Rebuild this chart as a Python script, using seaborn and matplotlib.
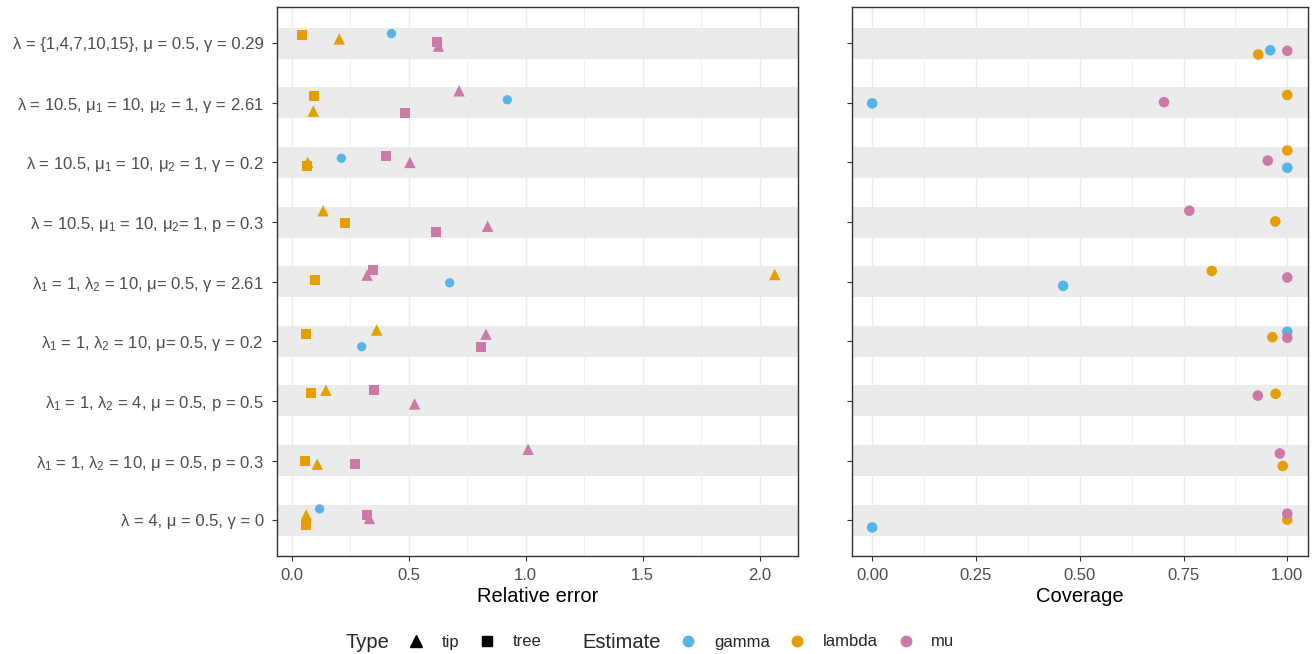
import numpy as np
import pandas as pd
import seaborn as sns
import matplotlib
matplotlib.use('Agg')
import matplotlib.pyplot as plt
from matplotlib.lines import Line2D
from matplotlib.ticker import MultipleLocator

sns.set_theme(style='white')
plt.rcParams['font.family'] = ['Liberation Sans', 'DejaVu Sans']
plt.rcParams['mathtext.fontset'] = 'custom'
plt.rcParams['mathtext.rm'] = 'Liberation Sans'
plt.rcParams['mathtext.it'] = 'Liberation Sans'

scenarios = [
    'λ = {1,4,7,10,15}, μ = 0.5, γ = 0.29',
    'λ = 10.5, $\\mu_1$ = 10, $\\mu_2$ = 1, γ = 2.61',
    'λ = 10.5, $\\mu_1$ = 10, $\\mu_2$ = 1, γ = 0.2',
    'λ = 10.5, $\\mu_1$ = 10, $\\mu_2$= 1, p = 0.3',
    '$\\lambda_1$ = 1, $\\lambda_2$ = 10, μ= 0.5, γ = 2.61',
    '$\\lambda_1$ = 1, $\\lambda_2$ = 10, μ= 0.5, γ = 0.2',
    '$\\lambda_1$ = 1, $\\lambda_2$ = 4, μ = 0.5, p = 0.5',
    '$\\lambda_1$ = 1, $\\lambda_2$ = 10, μ = 0.5, p = 0.3',
    'λ = 4, μ = 0.5, γ = 0',
]

# relative error per scenario (None = not estimated)
err_gamma = [0.427, 0.922, 0.213, None, 0.676, 0.300, None, None, 0.120]
err_lambda_tip = [0.204, 0.093, 0.069, 0.135, 2.065, 0.364, 0.147, 0.110, 0.063]
err_lambda_tree = [0.044, 0.096, 0.066, 0.229, 0.100, 0.062, 0.083, 0.058, 0.062]
err_mu_tip = [0.628, 0.716, 0.506, 0.838, 0.323, 0.831, 0.526, 1.011, 0.333]
err_mu_tree = [0.622, 0.485, 0.404, 0.618, 0.348, 0.810, 0.353, 0.271, 0.323]

# vertical jitter (in row units) as seen in the figure
jit_err_gamma = [-0.16, -0.05, -0.07, None, 0.02, 0.09, None, None, -0.19]
jit_err_lambda_tip = [-0.07, 0.14, 0.00, -0.19, -0.12, -0.19, -0.18, 0.06, -0.09]
jit_err_lambda_tree = [-0.13, -0.12, 0.06, 0.02, -0.02, -0.12, -0.14, 0.01, 0.08]
jit_err_mu_tip = [0.05, -0.20, 0.00, 0.07, -0.11, -0.12, 0.05, -0.19, -0.03]
jit_err_mu_tree = [-0.02, 0.18, -0.11, 0.17, -0.19, 0.09, -0.19, 0.05, -0.08]

# coverage per scenario
cov_gamma = [0.959, 0.0, 1.0, None, 0.460, 1.0, None, None, 0.0]
cov_lambda = [0.930, 1.0, 1.0, 0.971, 0.818, 0.964, 0.972, 0.989, 1.0]
cov_mu = [1.0, 0.703, 0.953, 0.764, 1.0, 1.0, 0.929, 0.982, 1.0]

jit_cov_gamma = [0.12, 0.01, 0.09, None, 0.07, -0.16, None, None, 0.12]
jit_cov_lambda = [0.19, -0.13, -0.20, -0.01, -0.18, -0.07, -0.12, 0.09, -0.01]
jit_cov_mu = [0.13, -0.01, -0.03, -0.19, -0.07, -0.06, -0.09, -0.12, -0.11]

palette = {'gamma': '#56B4E9', 'lambda': '#E69F00', 'mu': '#CC79A7'}


def long_table(series):
    rows = []
    for est, typ, vals, jit in series:
        for i, (v, j) in enumerate(zip(vals, jit)):
            if v is None:
                continue
            rows.append({'row': i, 'value': v, 'ypos': i + j,
                         'Estimate': est, 'Type': typ})
    return pd.DataFrame(rows)


err_df = long_table([
    ('gamma', 'none', err_gamma, jit_err_gamma),
    ('lambda', 'tip', err_lambda_tip, jit_err_lambda_tip),
    ('lambda', 'tree', err_lambda_tree, jit_err_lambda_tree),
    ('mu', 'tip', err_mu_tip, jit_err_mu_tip),
    ('mu', 'tree', err_mu_tree, jit_err_mu_tree),
])
cov_df = long_table([
    ('gamma', 'none', cov_gamma, jit_cov_gamma),
    ('lambda', 'none', cov_lambda, jit_cov_lambda),
    ('mu', 'none', cov_mu, jit_cov_mu),
])

fig = plt.figure(figsize=(13.15, 6.54), dpi=100)
ax1 = fig.add_axes([0.2110, 0.1498, 0.3956, 0.8390])
ax2 = fig.add_axes([0.6481, 0.1498, 0.3463, 0.8390])

for ax in (ax1, ax2):
    ax.set_axisbelow(True)
    for i in range(len(scenarios)):
        ax.axhspan(i - 0.26, i + 0.26, color='#EBEBEB', lw=0, zorder=0.8)

sns.scatterplot(data=err_df, x='value', y='ypos', hue='Estimate', style='Type',
                size='Type', palette=palette,
                markers={'tip': '^', 'tree': 's', 'none': 'o'},
                sizes={'tip': 68, 'tree': 52, 'none': 45},
                linewidth=0, legend=False, ax=ax1, zorder=3)
sns.scatterplot(data=cov_df, x='value', y='ypos', hue='Estimate', palette=palette,
                s=58, linewidth=0, legend=False, ax=ax2, zorder=3)

ax1.set_xlim(-0.06, 2.163)
ax2.set_xlim(-0.048, 1.049)
ax1.xaxis.set_major_locator(MultipleLocator(0.5))
ax1.xaxis.set_minor_locator(MultipleLocator(0.25))
ax2.xaxis.set_major_locator(MultipleLocator(0.25))
ax2.xaxis.set_minor_locator(MultipleLocator(0.125))
ax1.xaxis.set_major_formatter(plt.FormatStrFormatter('%.1f'))
ax2.xaxis.set_major_formatter(plt.FormatStrFormatter('%.2f'))

for ax in (ax1, ax2):
    ax.set_ylim(8.6, -0.6)
    ax.set_yticks(range(len(scenarios)))
    ax.grid(True, which='major', axis='x', color='#EBEBEB', lw=1.0)
    ax.grid(True, which='minor', axis='x', color='#EBEBEB', lw=0.6)
    ax.grid(False, axis='y')
    for s in ax.spines.values():
        s.set_color('#333333')
        s.set_linewidth(1.0)
    ax.tick_params(axis='both', which='major', length=3.8, width=0.8,
                   color='#333333', labelcolor='#4D4D4D', labelsize=12,
                   bottom=True, left=True)
    ax.tick_params(axis='x', which='major', pad=4.5)
    ax.tick_params(axis='y', which='major', pad=6)
    ax.tick_params(axis='x', which='minor', length=0)
    ax.set_ylabel('')

ax1.set_yticklabels(scenarios)
ax2.set_yticklabels([])
ax1.set_xlabel('Relative error', fontsize=14.5, color='black', labelpad=3.5)
ax2.set_xlabel('Coverage', fontsize=14.5, color='black', labelpad=3.5)

# legends along the bottom
ly = 1 - 642 / 654
fig.text(345 / 1315, ly, 'Type', fontsize=14.5, va='center', ha='left')
type_handles = [
    Line2D([], [], ls='none', marker='^', color='black', markersize=8.5),
    Line2D([], [], ls='none', marker='s', color='black', markersize=7),
]
leg1 = fig.legend(type_handles, ['tip', 'tree'], ncol=2, frameon=False,
                  loc='center left', bbox_to_anchor=(406 / 1315, ly),
                  fontsize=12, handlelength=1.2, handletextpad=0.95,
                  columnspacing=1.05, borderaxespad=0, borderpad=0)
fig.text(582 / 1315, ly, 'Estimate', fontsize=14.5, va='center', ha='left')
est_handles = [Line2D([], [], ls='none', marker='o', color=palette[k], markersize=7.5)
               for k in ['gamma', 'lambda', 'mu']]
leg2 = fig.legend(est_handles, ['gamma', 'lambda', 'mu'], ncol=3, frameon=False,
                  loc='center left', bbox_to_anchor=(678 / 1315, ly),
                  fontsize=12, handlelength=1.2, handletextpad=0.95,
                  columnspacing=1.05, borderaxespad=0, borderpad=0)

fig.savefig('out.png', dpi=100)
